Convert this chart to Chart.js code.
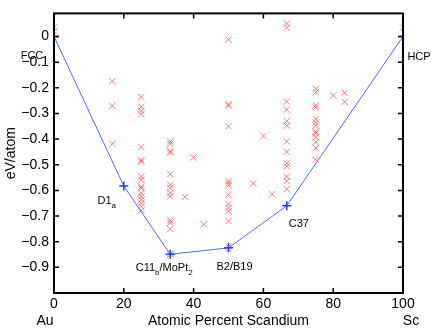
<!DOCTYPE html>
<html>
<head>
<meta charset="utf-8">
<script src="https://cdn.jsdelivr.net/npm/chart.js@4/dist/chart.umd.min.js"></script>
<style>
  html, body { margin: 0; padding: 0; background: #fff; }
  canvas { display: block; }
</style>
</head>
<body>
<canvas id="hull-chart" width="436" height="330"></canvas>
<script>
// Au-Sc formation energies: convex hull + all computed structures

const xTickValues = [0, 20, 40, 60, 80, 100];
const yTickValues = [0, -0.1, -0.2, -0.3, -0.4, -0.5, -0.6, -0.7, -0.8, -0.9];

// ground-state hull
const hullPercent = [0, 20, 33.3, 50, 66.7, 100];
const hullEnergy = [0, -0.583, -0.849, -0.824, -0.66, 0];
const hullNames = ['FCC', 'D1_a', 'C11_b/MoPt_2', 'B2/B19', 'C37', 'HCP'];

// every structure tried, grouped by composition
const candPercent = [0, 16.7, 25, 33.3, 37.5, 40, 42.9, 50, 57.1, 60, 62.5, 66.7, 75, 80, 83.3, 100];
const candEnergy = [
  [0.035, 0.02],
  [-0.174, -0.27, -0.418],
  [-0.236, -0.274, -0.29, -0.303, -0.431, -0.482, -0.488, -0.546, -0.559, -0.585, -0.591, -0.61, -0.623, -0.636, -0.649, -0.662, -0.678],
  [-0.409, -0.418, -0.447, -0.453, -0.537, -0.578, -0.591, -0.61, -0.623, -0.717, -0.726, -0.751, -0.845, -0.851],
  [-0.626],
  [-0.472],
  [-0.732],
  [-0.012, -0.264, -0.27, -0.35, -0.563, -0.572, -0.582, -0.617, -0.653, -0.668, -0.681, -0.719, -0.819, -0.828],
  [-0.573],
  [-0.388],
  [-0.615],
  [0.05, 0.035, -0.254, -0.285, -0.33, -0.348, -0.409, -0.45, -0.495, -0.506, -0.546, -0.563, -0.595],
  [-0.204, -0.217, -0.268, -0.277, -0.322, -0.335, -0.347, -0.371, -0.378, -0.392, -0.412, -0.435, -0.48],
  [-0.23],
  [-0.219, -0.255],
  [0.035]
];

const FONT = "'Liberation Sans', Arial, Helvetica, sans-serif";

// offsets of each hull label from its point (pixels)
const labelOffsets = [[-22, 19], [-17, 15], [-6, 14], [6, 19], [12, 18], [16, 20]];

const candPoints = [];
candPercent.forEach((x, i) => {
  candEnergy[i].forEach(y => candPoints.push({ x: x, y: y }));
});
const hullPoints = hullPercent.map((x, i) => ({ x: x, y: hullEnergy[i] }));

function minusLabel(v) {
  if (v === 0) return '0';
  return (v < 0 ? '\u2212' : '') + Math.abs(v).toString();
}

// draw "D1_a" style text, with _ marking a one-char subscript
function drawRich(ctx, text, cx, cy, size) {
  const parts = [];
  for (let i = 0; i < text.length; i++) {
    if (text[i] === '_') { parts.push({ t: text[i + 1], sub: true }); i++; }
    else if (parts.length && !parts[parts.length - 1].sub) parts[parts.length - 1].t += text[i];
    else parts.push({ t: text[i], sub: false });
  }
  const subSize = Math.round(size * 0.75);
  let total = 0;
  parts.forEach(p => {
    ctx.font = (p.sub ? subSize : size) + 'px ' + FONT;
    p.w = ctx.measureText(p.t).width;
    total += p.w;
  });
  let x = cx - total / 2;
  ctx.textAlign = 'left';
  ctx.textBaseline = 'middle';
  parts.forEach(p => {
    ctx.font = (p.sub ? subSize : size) + 'px ' + FONT;
    ctx.fillText(p.t, x, p.sub ? cy + 5 : cy);
    x += p.w;
  });
}

const framePlugin = {
  id: 'frame',
  afterDraw(chart) {
    const ctx = chart.ctx;
    const a = chart.chartArea;
    const xs = chart.scales.x;
    const ys = chart.scales.y;
    ctx.save();
    ctx.strokeStyle = '#000';
    ctx.lineWidth = 2;
    ctx.strokeRect(a.left, a.top, a.right - a.left, a.bottom - a.top);

    // inward ticks on all four sides
    ctx.lineWidth = 1.5;
    ctx.beginPath();
    xTickValues.forEach(v => {
      const px = xs.getPixelForValue(v);
      ctx.moveTo(px, a.bottom); ctx.lineTo(px, a.bottom - 5);
      ctx.moveTo(px, a.top); ctx.lineTo(px, a.top + 5);
    });
    yTickValues.forEach(v => {
      const py = ys.getPixelForValue(v);
      ctx.moveTo(a.left, py); ctx.lineTo(a.left + 5, py);
      ctx.moveTo(a.right, py); ctx.lineTo(a.right - 5, py);
    });
    ctx.stroke();

    // structure names next to hull points
    ctx.fillStyle = '#000';
    hullNames.forEach((name, i) => {
      const px = xs.getPixelForValue(hullPercent[i]) + labelOffsets[i][0];
      const py = ys.getPixelForValue(hullEnergy[i]) + labelOffsets[i][1];
      drawRich(ctx, name, px, py, 11);
    });

    // element names under the axis ends
    ctx.font = '14px ' + FONT;
    ctx.textAlign = 'center';
    ctx.textBaseline = 'middle';
    ctx.fillText('Au', xs.getPixelForValue(0) - 9, 321);
    ctx.fillText('Sc', xs.getPixelForValue(100) + 8, 321);
    ctx.restore();
  }
};

new Chart(document.getElementById('hull-chart'), {
  type: 'scatter',
  data: {
    datasets: [
      {
        label: 'hull',
        data: hullPoints,
        showLine: true,
        borderColor: '#4d6bff',
        borderWidth: 1,
        pointStyle: 'cross',
        pointRadius: 4.5,
        pointBorderWidth: 1.5,
        pointBorderColor: '#1f3dff',
        pointBackgroundColor: '#1f3dff'
      },
      {
        label: 'structures',
        data: candPoints,
        pointStyle: 'crossRot',
        pointRadius: 4.5,
        pointBorderWidth: 1,
        pointBorderColor: 'rgba(255, 0, 0, 0.5)',
        pointBackgroundColor: 'rgba(255, 0, 0, 0.5)'
      }
    ]
  },
  options: {
    responsive: false,
    animation: false,
    devicePixelRatio: 1,
    layout: { padding: { top: 9, right: 33, left: 0, bottom: 0 } },
    plugins: {
      legend: { display: false },
      tooltip: { enabled: false }
    },
    scales: {
      x: {
        type: 'linear',
        min: 0,
        max: 100,
        afterBuildTicks: s => { s.ticks = xTickValues.map(v => ({ value: v })); },
        afterFit: s => { s.height = 37; },
        grid: { display: false, drawTicks: false },
        border: { display: false },
        ticks: {
          autoSkip: false,
          maxRotation: 0,
          padding: 3,
          color: '#000',
          font: { family: FONT, size: 14 },
          callback: v => minusLabel(v)
        },
        title: {
          display: true,
          text: 'Atomic Percent Scandium',
          color: '#000',
          font: { family: FONT, size: 14 },
          padding: { top: 0, bottom: 0 }
        }
      },
      y: {
        type: 'linear',
        min: -1,
        max: 0.09,
        afterBuildTicks: s => { s.ticks = yTickValues.map(v => ({ value: v })); },
        afterFit: s => { s.width = 54; },
        grid: { display: false, drawTicks: false },
        border: { display: false },
        ticks: {
          autoSkip: false,
          padding: 5,
          color: '#000',
          font: { family: FONT, size: 14 },
          callback: v => minusLabel(Math.round(v * 10) / 10)
        },
        title: {
          display: true,
          text: 'eV/atom',
          color: '#000',
          font: { family: FONT, size: 14 },
          padding: { top: 3, bottom: 0 }
        }
      }
    }
  },
  plugins: [framePlugin]
});
</script>
</body>
</html>
